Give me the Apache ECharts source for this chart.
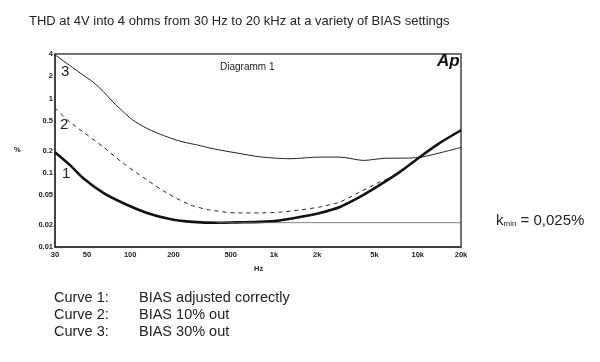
<!DOCTYPE html>
<html>
<head>
<meta charset="utf-8">
<script src="https://cdn.jsdelivr.net/npm/echarts@6/dist/echarts.min.js"></script>
<style>html,body{margin:0;padding:0;background:#fff;}#c{width:600px;height:362px;}</style>
</head>
<body>
<div id="c"></div>
<script>
// Frequencies (Hz) and THD values (%)
var curve1Freq = [30, 38, 47, 65, 89, 131, 189, 273, 402, 553, 800, 1050, 1518, 2090, 2876, 3963, 5460, 7520, 10360, 14260, 20000];
var curve1Thd  = [0.19, 0.128, 0.085, 0.0535, 0.0392, 0.0288, 0.0239, 0.0218, 0.0212, 0.0215, 0.0218, 0.0225, 0.0254, 0.0288, 0.0347, 0.0473, 0.0687, 0.1028, 0.1637, 0.253, 0.375];

var curve2Freq = [30, 38, 47, 65, 89, 131, 180, 261, 359, 553, 800, 1150, 1518, 2090, 2876, 3963, 5460, 6400, 7520, 10360, 14260, 20000];
var curve2Thd  = [0.75, 0.485, 0.356, 0.223, 0.136, 0.08, 0.0535, 0.037, 0.0316, 0.0288, 0.0288, 0.0297, 0.0316, 0.0347, 0.0405, 0.0552, 0.0753, 0.0853, 0.1028, 0.1637, 0.256, 0.38];

var curve3Freq = [30, 38, 47, 55, 65, 76, 90, 104, 130, 154, 190, 233, 300, 359, 450, 553, 800, 1290, 2090, 2876, 4200, 5900, 8600, 10860, 20000];
var curve3Thd  = [3.9, 2.8, 2.08, 1.68, 1.25, 0.9, 0.66, 0.516, 0.40, 0.344, 0.295, 0.261, 0.235, 0.216, 0.198, 0.185, 0.164, 0.155, 0.163, 0.163, 0.147, 0.157, 0.158, 0.164, 0.22];

var kminFreq = [400, 28500];
var kminThd  = [0.0213, 0.0213];

var xTickValues = [30, 50, 100, 200, 500, 1000, 2000, 5000, 10000, 20000];
var xTickLabels = ['30', '50', '100', '200', '500', '1k', '2k', '5k', '10k', '20k'];
var yTickValues = [0.01, 0.02, 0.05, 0.1, 0.2, 0.5, 1, 2, 4];
var yTickLabels = ['0.01', '0.02', '0.05', '0.1', '0.2', '0.5', '1', '2', '4'];

function pairs(xs, ys) { return xs.map(function (x, i) { return [x, ys[i]]; }); }

var FONT = '"Liberation Sans", Arial, sans-serif';
var chart = echarts.init(document.getElementById('c'), null, {renderer: 'canvas'});
chart.setOption({
  animation: false,
  backgroundColor: '#ffffff',
  grid: {left: 55, right: 139, top: 54, bottom: 115, show: true, borderColor: '#444', borderWidth: 1.5, backgroundColor: 'transparent'},
  xAxis: {
    type: 'log', min: 30, max: 20000, logBase: 10,
    axisLine: {show: true, lineStyle: {color: '#333', width: 1.5}},
    axisTick: {show: false, customValues: xTickValues},
    splitLine: {show: false},
    axisLabel: {
      customValues: xTickValues, margin: 4, color: '#222', fontSize: 7.5, fontWeight: 'bold', fontFamily: FONT,
      formatter: function (v) { var i = xTickValues.indexOf(Math.round(v)); return i >= 0 ? xTickLabels[i] : ''; }
    }
  },
  yAxis: {
    type: 'log', min: 0.01, max: 4, logBase: 10,
    axisLine: {show: true, lineStyle: {color: '#333', width: 1.5}},
    axisTick: {show: false, customValues: yTickValues},
    splitLine: {show: false},
    axisLabel: {
      customValues: yTickValues, margin: 2, color: '#222', fontSize: 7.5, fontWeight: 'bold', fontFamily: FONT,
      formatter: function (v) {
        for (var i = 0; i < yTickValues.length; i++) { if (Math.abs(v / yTickValues[i] - 1) < 1e-6) return yTickLabels[i]; }
        return '';
      }
    }
  },
  series: [
    {type: 'line', name: 'Curve 3', data: pairs(curve3Freq, curve3Thd), showSymbol: false, smooth: 0.25,
     lineStyle: {color: '#222', width: 1}},
    {type: 'line', name: 'Curve 2', data: pairs(curve2Freq, curve2Thd), showSymbol: false, smooth: 0.25,
     lineStyle: {color: '#222', width: 1, type: [4, 4]}},
    {type: 'line', name: 'Curve 1', data: pairs(curve1Freq, curve1Thd), showSymbol: false, smooth: 0.25,
     lineStyle: {color: '#111', width: 2.6}},
    {type: 'line', name: 'kmin', data: pairs(kminFreq, kminThd), showSymbol: false, clip: false,
     lineStyle: {color: '#666', width: 0.8}}
  ],
  graphic: [
    {type: 'text', x: 29, y: 15, style: {text: 'THD at 4V into 4 ohms from 30 Hz to 20 kHz at a variety of BIAS settings', font: '13px ' + FONT, fill: '#222'}},
    {type: 'text', x: 220, y: 62, style: {text: 'Diagramm 1', font: '10px ' + FONT, fill: '#222'}},
    {type: 'text', x: 437, y: 53, style: {text: 'Ap', font: 'italic bold 17px ' + FONT, fill: '#111'}},
    {type: 'text', x: 14, y: 146, style: {text: '%', font: 'bold 7.5px ' + FONT, fill: '#222'}},
    {type: 'text', x: 254, y: 265, style: {text: 'Hz', font: 'bold 7.5px ' + FONT, fill: '#222'}},
    {type: 'text', x: 61, y: 64, style: {text: '3', font: '15px ' + FONT, fill: '#222'}},
    {type: 'text', x: 60, y: 117, style: {text: '2', font: '15px ' + FONT, fill: '#222'}},
    {type: 'text', x: 62, y: 166, style: {text: '1', font: '15px ' + FONT, fill: '#222'}},
    {type: 'text', x: 496, y: 213, style: {
      text: '{k|k}{s|min}{t| = 0,025%}', fill: '#222',
      rich: {k: {font: '15px ' + FONT, fill: '#222'}, s: {font: '8px ' + FONT, fill: '#222', padding: [6, 0, 0, 0]}, t: {font: '15px ' + FONT, fill: '#222'}}
    }},
    {type: 'text', x: 54, y: 289, style: {text: 'Curve 1:\nCurve 2:\nCurve 3:', font: '14.5px ' + FONT, fill: '#222', lineHeight: 17}},
    {type: 'text', x: 139, y: 289, style: {text: 'BIAS adjusted correctly\nBIAS 10% out\nBIAS 30% out', font: '14.5px ' + FONT, fill: '#222', lineHeight: 17}}
  ]
});
</script>
</body>
</html>
